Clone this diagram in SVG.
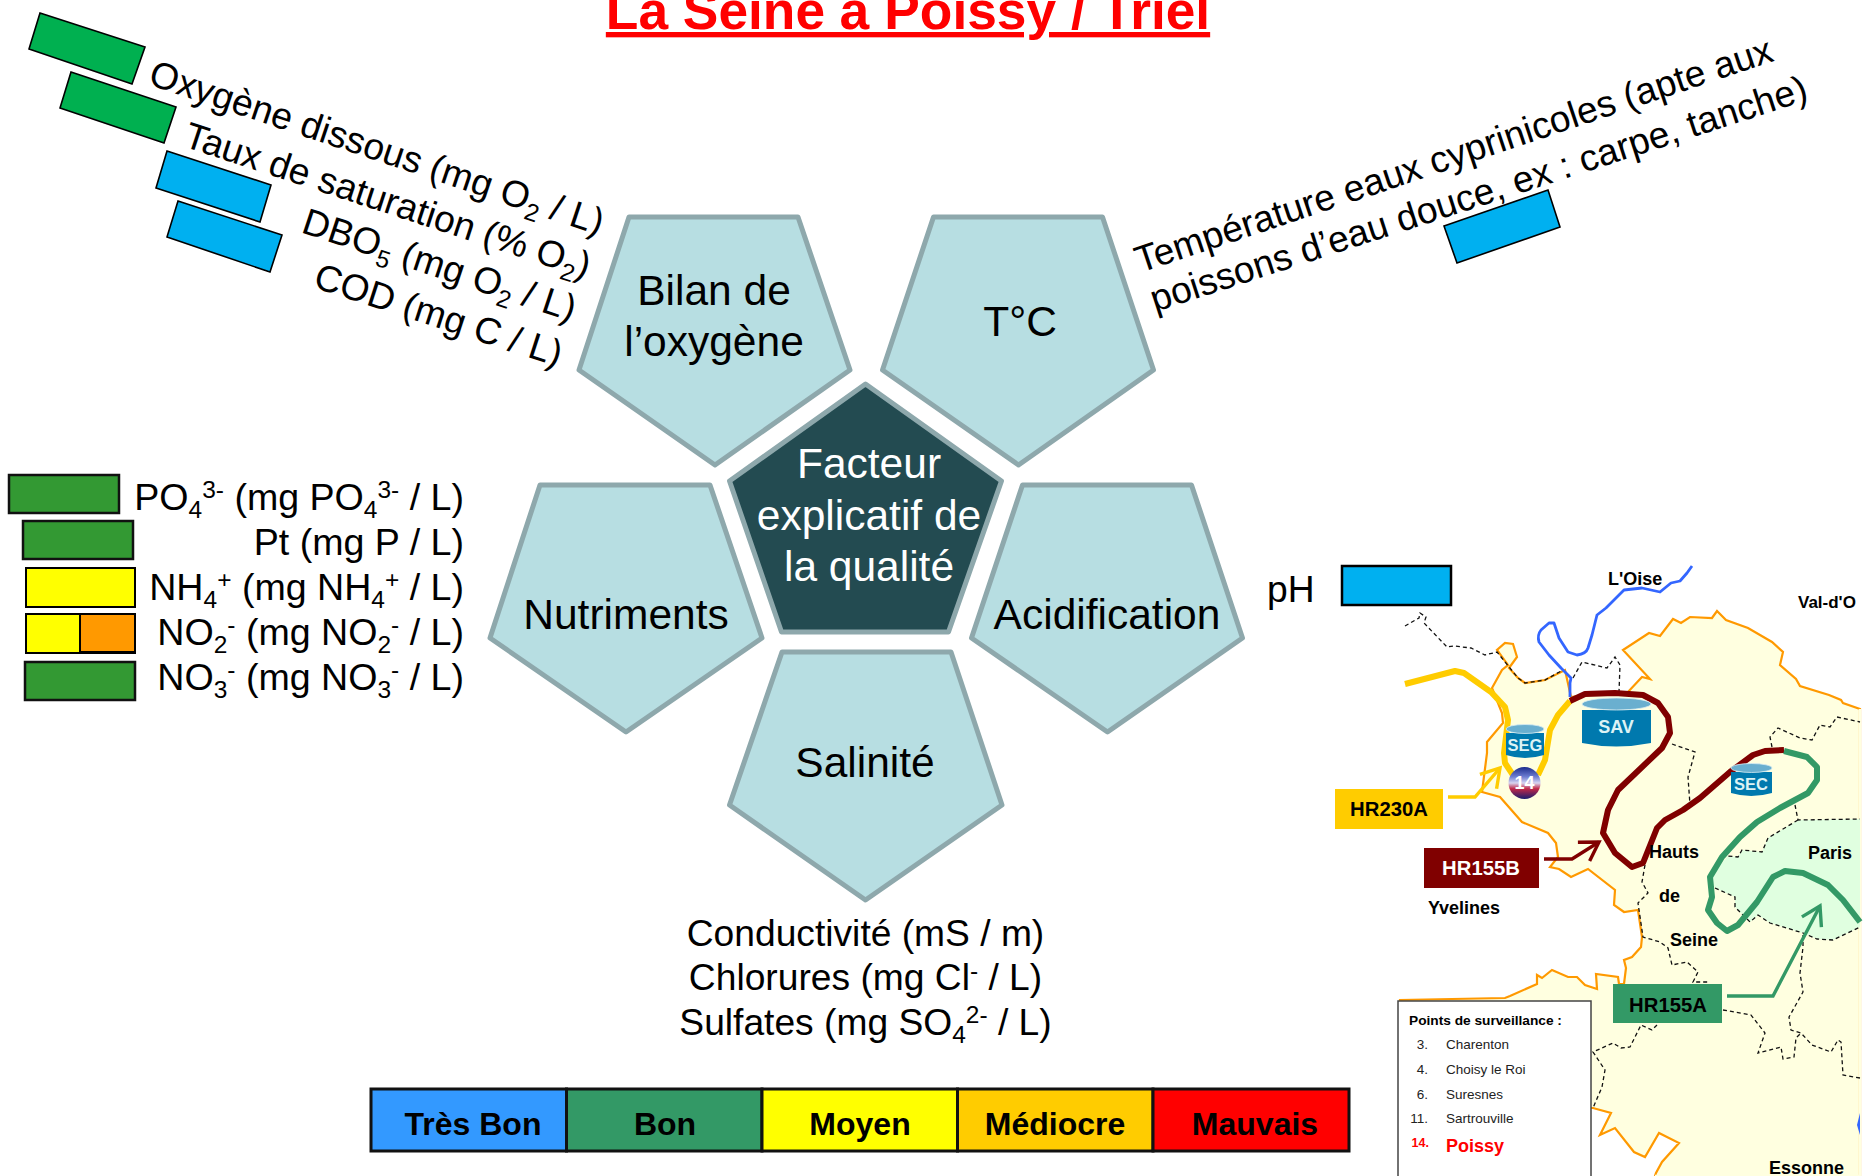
<svg xmlns="http://www.w3.org/2000/svg" width="1865" height="1176" viewBox="0 0 1865 1176">
<style>
text{font-family:"Liberation Sans",Arial,sans-serif;fill:#000}
.p{fill:#B7DEE2;stroke:#8EA8AC;stroke-width:5;stroke-linejoin:round}
.c{fill:#234B51;stroke:#8EA8AC;stroke-width:5;stroke-linejoin:round}
.n{font-size:42.5px;text-anchor:middle}
.w{font-size:42.5px;text-anchor:middle;fill:#fff}
.l{font-size:37.2px}
.e{font-size:37.6px;text-anchor:end}
.m{font-size:37.2px;text-anchor:middle}
.s{stroke:#000;stroke-width:2}
.r{stroke:#000;stroke-width:1.6}
.gb{fill:#339933;stroke:#111;stroke-width:2.5}
.bar{stroke:#111;stroke-width:3}
.bt{font-size:32px;font-weight:bold;text-anchor:middle}
.ml{font-size:18px;font-weight:bold}
.ds{fill:none;stroke:#111;stroke-width:1.3;stroke-dasharray:4 3}
.riv{fill:none;stroke-width:6;stroke-linejoin:round;stroke-linecap:butt}
.cy{fill:#0079AE}
.ct{fill:#6AAFCF;stroke:#D8ECF2;stroke-width:.8}
.cl{font-weight:bold;text-anchor:middle;fill:#DDF3F5}
.hr{font-size:20.300px;font-weight:bold;text-anchor:middle}
.lg{font-size:13.5px;fill:#222}
.ar{fill:none;stroke-width:3.4}
</style>
<defs>
<linearGradient id="ball" x1="0" y1="0" x2="0" y2="1"><stop offset="0" stop-color="#1C2C8C"/><stop offset=".3" stop-color="#6C7CD0"/><stop offset=".5" stop-color="#D8D4F0"/><stop offset=".68" stop-color="#C02848"/><stop offset="1" stop-color="#181C70"/></linearGradient>
<marker id="ay" markerUnits="userSpaceOnUse" markerWidth="28" markerHeight="28" refX="20" refY="14" orient="auto"><path d="M2,3 L20,14 L2,25" fill="none" stroke="#FFCC00" stroke-width="3.4"/></marker>
<marker id="am" markerUnits="userSpaceOnUse" markerWidth="28" markerHeight="28" refX="20" refY="14" orient="auto"><path d="M2,3 L20,14 L2,25" fill="none" stroke="#800000" stroke-width="3.4"/></marker>
<marker id="ag" markerUnits="userSpaceOnUse" markerWidth="28" markerHeight="28" refX="20" refY="14" orient="auto"><path d="M2,3 L20,14 L2,25" fill="none" stroke="#339966" stroke-width="3.4"/></marker>
</defs>
<rect width="1865" height="1176" fill="#fff"/>

<g id="title"><text x="908" y="29" font-size="53.300" font-weight="bold" text-anchor="middle" text-decoration="underline" style="fill:#FF0000">La Seine à Poissy / Triel</text></g>

<g id="map">
<path d="M1565,670 L1571,697 L1600,693 L1628,692 L1642,677 L1650,679 L1623,650 L1649,633 L1660,636 L1673,619 L1681,623 L1690,617 L1712,618 L1717,611 L1726,620 L1748,628 L1772,642 L1783,652 L1780,665 L1796,679 L1800,686 L1829,695 L1841,700 L1843,703 L1860,709 L1860,1176 L1655,1176 L1656,1173 L1662,1162 L1679,1143 L1659,1133 L1645,1157 L1634,1152 L1615,1128 L1600,1135 L1611,1113 L1593,1108 L1400,1108 L1400,1000 L1505,998 L1510,996 L1537,984 L1537,975 L1542,978 L1552,970 L1568,977 L1577,977 L1585,985 L1597,989 L1596,974 L1618,977 L1619,984 L1624,984 L1626,968 L1624,960 L1632,957 L1641,947 L1642,937 L1638,910 L1624,912 L1614,905 L1615,890 L1588,869 L1571,877 L1559,869 L1550,867 L1558,857 L1556,843 L1548,833 L1522,822 L1500,797 L1482,792 L1487,753 L1487,742 L1503,723 L1502,713 L1492,688 L1502,670 L1508,665 L1497,650 L1505,643 L1513,644 L1517,657 L1509,668 L1518,678 L1525,683 L1545,680 Z" fill="#FFFFE0" stroke="#FF9900" stroke-width="2.200"/>
<path d="M1860,709 V1176 H1655" fill="none" stroke="#FFFFE0" stroke-width="2.5"/>
<path d="M1798,820 L1768,838 L1762,852 L1742,850 L1738,857 L1728,856 L1710,877 L1715,888 L1735,897 L1735,907 L1750,922 L1758,915 L1770,923 L1803,933 L1817,939 L1833,940 L1860,927 L1860,819 Z" fill="#E0FFE0"/>
<path class="ds" d="M1405,626 L1419,618 L1420,613 L1426,617 L1424,623 L1447,647 L1454,646 L1471,648 L1485,655 L1497,652 L1518,678 L1525,683 L1545,680 L1563,670"/>
<path class="ds" d="M1573,678 L1582,662 L1607,668 L1615,657 L1620,665 L1619,692"/>
<path class="ds" d="M1672,744 L1695,752 L1688,777 L1690,805"/>
<path class="ds" d="M1772,747 L1770,737 L1778,728 L1800,738 L1812,740 L1820,725 L1830,727 L1837,717 L1860,722"/>
<path class="ds" d="M1795,805 L1798,820 L1860,819 M1798,820 L1768,838 L1762,852 L1742,850 L1738,857 L1728,856"/>
<path class="ds" d="M1715,888 L1735,897 L1735,907 L1750,922 L1758,915 L1770,923 L1803,933 L1817,939 L1833,940 L1860,927"/>
<path class="ds" d="M1645,865 L1642,882 L1648,893 L1638,903 L1643,937 L1660,942 L1668,948 L1672,965 L1687,962 L1698,972 L1693,982 L1710,982"/>
<path class="ds" d="M1803,935 L1803,947 L1800,973 L1803,992 L1789,1017 L1791,1030 L1801,1033 L1812,1045 L1831,1052 L1838,1040 L1841,1042 L1843,1075 L1860,1078"/>
<path class="ds" d="M1723,1010 L1751,1015 L1765,1033 L1758,1053 L1781,1047 L1783,1059 L1794,1057 L1796,1038 L1801,1033"/>
<path class="ds" d="M1657,1025 L1652,1030 L1641,1025 L1630,1047 L1621,1048 L1613,1043 L1593,1052 L1605,1070 L1602,1087 L1593,1108"/>
<path d="M1860,1113 L1857,1125 L1860,1135 Z" fill="#3366FF"/>
<path class="riv" style="stroke:#3366FF;stroke-width:2.8" d="M1570,697 L1570,683 L1571,678 L1561,668 L1549,655 L1539,642 Q1537,635 1541,630 L1549,623 L1554,623 L1559,638 L1568,652 L1577,655 Q1586,654 1588,648 L1592,635 L1597,615 L1606,608 L1624,590 L1642,588 L1660,592 L1671,583 L1680,581 L1687,573 L1692,566"/>
<path class="riv" style="stroke:#FFCC00" d="M1405,684 L1455,671 L1464,673 L1491,692 L1505,707 L1508,720 L1504,753 L1505,763 L1513,775 M1538,775 L1545,760 L1550,730 L1558,715 L1570,701"/>
<path class="riv" style="stroke:#800000" d="M1570,701 L1585,694 L1615,693 L1643,695 L1658,703 L1668,717 L1670,733 L1662,748 L1618,790 L1608,810 L1603,833 L1615,853 L1632,867 L1643,863 L1657,828 L1665,820 L1683,810 L1700,798 L1730,772 L1753,755 L1765,751 L1784,750"/>
<path class="riv" style="stroke:#339966" d="M1784,751 L1807,757 L1817,767 L1817,780 L1808,793 L1780,808 L1757,822 L1740,837 L1722,857 L1710,877 L1712,897 L1708,910 L1717,923 L1727,931 L1738,925 L1757,902 L1773,877 L1785,871 L1803,873 L1828,885 L1843,900 L1860,922"/>
</g>

<g id="map-labels">
<text class="ml" x="1608" y="585">L'Oise</text>
<text class="ml" style="font-size:17px" x="1798" y="608">Val-d'O</text>
<text class="ml" x="1649" y="858">Hauts</text>
<text class="ml" x="1808" y="859">Paris</text>
<text class="ml" x="1659" y="902">de</text>
<text class="ml" x="1670" y="946">Seine</text>
<text class="ml" x="1428" y="914">Yvelines</text>
<text class="ml" x="1769" y="1174">Essonne</text>
</g>

<g id="SAV"><path class="cy" d="M1582,710 V743 Q1616,750 1651,743 V710 Z"/><ellipse class="ct" cx="1616.500" cy="704" rx="34.500" ry="6"/><text class="cl" x="1616" y="733" font-size="18">SAV</text></g>
<g id="SEG"><path class="cy" d="M1506,733 V755 Q1525,761 1544,755 V733 Z"/><ellipse class="ct" cx="1525" cy="729" rx="19" ry="4.500"/><text class="cl" x="1525" y="751" font-size="16.500">SEG</text></g>
<g id="SEC"><path class="cy" d="M1731,772 V793 Q1751,799 1772,793 V772 Z"/><ellipse class="ct" cx="1751.500" cy="768" rx="20.500" ry="4.500"/><text class="cl" x="1751" y="790" font-size="16.500">SEC</text></g>
<g id="point-14"><circle cx="1524.500" cy="783" r="16" fill="url(#ball)"/><text x="1524.500" y="789" font-size="18" font-weight="bold" text-anchor="middle" style="fill:#fff">14</text></g>

<g id="connectors">
<path class="ar" stroke="#FFCC00" marker-end="url(#ay)" d="M1448,797 H1475 L1500,768"/>
<path class="ar" stroke="#800000" marker-end="url(#am)" d="M1544,859 H1572 L1599,842"/>
<path class="ar" stroke="#339966" marker-end="url(#ag)" d="M1727,996 H1773 L1820,906"/>
</g>

<g id="HR230A"><rect x="1335" y="789" width="108" height="40" fill="#FFCC00"/><text class="hr" x="1389" y="816">HR230A</text></g>
<g id="HR155B"><rect x="1424" y="848" width="115" height="40" fill="#800000"/><text class="hr" x="1481" y="875" style="fill:#fff">HR155B</text></g>
<g id="HR155A"><rect x="1613" y="984" width="109" height="39" fill="#339966"/><text class="hr" x="1668" y="1012">HR155A</text></g>

<g id="legend-points">
<rect x="1398" y="1001" width="193" height="185" fill="#fff" stroke="#444" stroke-width="1.500"/>
<text x="1409" y="1025" font-size="13.700" font-weight="bold">Points de surveillance :</text>
<text class="lg" x="1428" y="1049" text-anchor="end">3.</text><text class="lg" x="1446" y="1049">Charenton</text>
<text class="lg" x="1428" y="1074" text-anchor="end">4.</text><text class="lg" x="1446" y="1074">Choisy le Roi</text>
<text class="lg" x="1428" y="1099" text-anchor="end">6.</text><text class="lg" x="1446" y="1099">Suresnes</text>
<text class="lg" x="1428" y="1123" text-anchor="end">11.</text><text class="lg" x="1446" y="1123">Sartrouville</text>
<text x="1429" y="1147" font-size="12.500" font-weight="bold" text-anchor="end" style="fill:#FF0000">14.</text><text x="1446" y="1152" font-size="18" font-weight="bold" style="fill:#FF0000">Poissy</text>
</g>

<g id="Bilan"><path class="p" d="M629,217 H798 L850,370 L715,465 L579,370 Z"/><text class="n" x="714" y="305">Bilan de</text><text class="n" x="714" y="356">l’oxygène</text></g>
<g id="TC"><path class="p" d="M933.500,217 H1102.500 L1153.500,370 L1018.500,465 L882.500,370 Z"/><text class="n" x="1020" y="336">T°C</text></g>
<g id="Nutriments"><path class="p" d="M540,485 H710 L762,638 L626,732 L490,638 Z"/><text class="n" x="626" y="629">Nutriments</text></g>
<g id="Acidification"><path class="p" d="M1022.500,485 H1191.500 L1242.500,638 L1107.500,732 L971.500,638 Z"/><text class="n" x="1107" y="629">Acidification</text></g>
<g id="Salinite"><path class="p" d="M782,652 H951 L1002,805 L865.500,900 L729.500,805 Z"/><text class="n" x="865" y="777">Salinité</text></g>
<g id="Facteur"><path class="c" d="M865.500,384 L1001.500,481 L948.500,632 L781.500,632 L729.500,481 Z"/><text class="w" x="869" y="478">Facteur</text><text class="w" x="869" y="530">explicatif de</text><text class="w" x="869" y="581">la qualité</text></g>

<g id="oxygen-params">
<polygon class="r" fill="#00B050" points="40,13 145,47 132,84 29,49"/>
<polygon class="r" fill="#00B050" points="71,72 176,107 164,143 60,108"/>
<polygon class="r" fill="#00B0F0" points="167,151 271,185 260,222 156,188"/>
<polygon class="r" fill="#00B0F0" points="178,201 282,235 270,272 167,237"/>
<text class="l" transform="translate(147,84) rotate(18.500)">Oxygène dissous (mg O<tspan font-size="24.500" dy="8">2</tspan><tspan dy="-8"> / L)</tspan></text>
<text class="l" transform="translate(182,146) rotate(18.200)">Taux de saturation (% O<tspan font-size="24.500" dy="8">2</tspan><tspan dy="-8">)</tspan></text>
<text class="l" transform="translate(300,232) rotate(18.300)">DBO<tspan font-size="24.500" dy="8">5</tspan><tspan dy="-8"> (mg O</tspan><tspan font-size="24.500" dy="8">2</tspan><tspan dy="-8"> / L)</tspan></text>
<text class="l" transform="translate(312,287) rotate(18)">COD (mg C / L)</text>
</g>

<g id="temp-params">
<polygon class="r" fill="#00B0F0" points="1444,226 1548,190 1560,227 1457,263"/>
<text class="l" transform="translate(1140,273) rotate(-18.500)">Température eaux cyprinicoles (apte aux</text>
<text class="l" transform="translate(1155,312) rotate(-18)">poissons d’eau douce, ex : carpe, tanche)</text>
</g>

<g id="nutrient-params">
<rect class="gb" x="9" y="475" width="110" height="38"/>
<rect class="gb" x="23" y="521" width="110" height="38"/>
<rect class="s" fill="#FFFF00" x="26" y="568" width="109" height="39"/>
<rect class="s" fill="#FFFF00" x="26" y="614" width="109" height="39"/>
<rect class="s" fill="#FF9900" x="80" y="614" width="55" height="38"/>
<rect class="gb" x="25" y="662" width="110" height="38"/>
<text class="e" x="464" y="510">PO<tspan font-size="24.500" dy="8">4</tspan><tspan font-size="24.500" dy="-20">3-</tspan><tspan dy="12"> (mg PO</tspan><tspan font-size="24.500" dy="8">4</tspan><tspan font-size="24.500" dy="-20">3-</tspan><tspan dy="12"> / L)</tspan></text>
<text class="e" x="464" y="555">Pt (mg P / L)</text>
<text class="e" x="464" y="600">NH<tspan font-size="24.500" dy="8">4</tspan><tspan font-size="24.500" dy="-20">+</tspan><tspan dy="12"> (mg NH</tspan><tspan font-size="24.500" dy="8">4</tspan><tspan font-size="24.500" dy="-20">+</tspan><tspan dy="12"> / L)</tspan></text>
<text class="e" x="464" y="645">NO<tspan font-size="24.500" dy="8">2</tspan><tspan font-size="24.500" dy="-20">-</tspan><tspan dy="12"> (mg NO</tspan><tspan font-size="24.500" dy="8">2</tspan><tspan font-size="24.500" dy="-20">-</tspan><tspan dy="12"> / L)</tspan></text>
<text class="e" x="464" y="690">NO<tspan font-size="24.500" dy="8">3</tspan><tspan font-size="24.500" dy="-20">-</tspan><tspan dy="12"> (mg NO</tspan><tspan font-size="24.500" dy="8">3</tspan><tspan font-size="24.500" dy="-20">-</tspan><tspan dy="12"> / L)</tspan></text>
</g>

<g id="ph-param">
<text class="l" x="1267" y="602">pH</text>
<rect class="s" fill="#00B0F0" x="1342" y="566" width="109" height="39" style="stroke-width:2.500"/>
</g>

<g id="salinity-params">
<text class="m" x="865.500" y="946">Conductivité (mS / m)</text>
<text class="m" x="865.500" y="990">Chlorures (mg Cl<tspan font-size="24.500" dy="-11">-</tspan><tspan dy="11"> / L)</tspan></text>
<text class="m" x="865.500" y="1035">Sulfates (mg SO<tspan font-size="24.500" dy="8">4</tspan><tspan font-size="24.500" dy="-20">2-</tspan><tspan dy="12"> / L)</tspan></text>
</g>

<g id="scale">
<rect class="bar" x="371" y="1089" width="195.500" height="62" fill="#3399FF"/>
<rect class="bar" x="566.500" y="1089" width="195.500" height="62" fill="#339966"/>
<rect class="bar" x="762" y="1089" width="195.500" height="62" fill="#FFFF00"/>
<rect class="bar" x="957.500" y="1089" width="195.500" height="62" fill="#FFCC00"/>
<rect class="bar" x="1153" y="1089" width="196" height="62" fill="#FF0000"/>
<text class="bt" x="473" y="1135">Très Bon</text>
<text class="bt" x="665" y="1135">Bon</text>
<text class="bt" x="860" y="1135">Moyen</text>
<text class="bt" x="1055" y="1135">Médiocre</text>
<text class="bt" x="1255" y="1135">Mauvais</text>
</g>
</svg>
